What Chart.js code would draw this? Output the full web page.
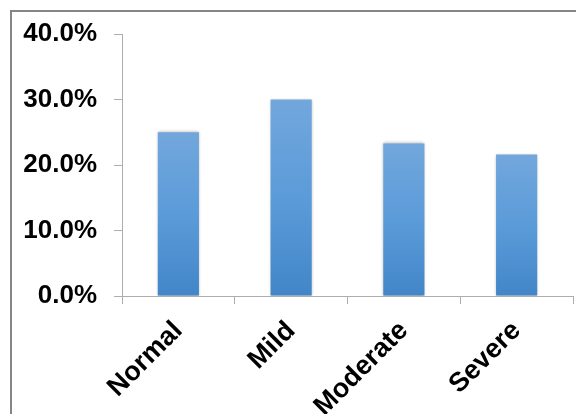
<!DOCTYPE html>
<html>
<head>
<meta charset="utf-8">
<script src="https://cdn.jsdelivr.net/npm/chart.js@4/dist/chart.umd.min.js"></script>
<style>
  html, body { margin: 0; padding: 0; background: #ffffff; }
  canvas { display: block; }
</style>
</head>
<body>
<canvas id="chart" width="576" height="414"></canvas>
<script>
// Share of subjects in each severity group (%)
const categories = ['Normal', 'Mild', 'Moderate', 'Severe'];
const shares = [25.0, 30.0, 23.3, 21.6];
const yMin = 0;
const yMax = 40;
const yStep = 10;

const axisGray = '#ADADAD';
const fontFamily = '"Liberation Sans", Arial, sans-serif';

// Vertical gradient running from the top of each bar down to the baseline
function barFill(ctx) {
  const chart = ctx.chart;
  const y = chart.scales && chart.scales.y;
  if (!chart.chartArea || !y || ctx.raw === undefined) return '#5B9BD5';
  const top = y.getPixelForValue(ctx.raw);
  const base = y.getPixelForValue(0);
  if (!isFinite(top) || !isFinite(base) || base - top < 1) return '#5B9BD5';
  const g = chart.ctx.createLinearGradient(0, top, 0, base);
  g.addColorStop(0, '#72A7DC');
  g.addColorStop(0.5, '#5B9BD9');
  g.addColorStop(1, '#4286C8');
  return g;
}

// Gray frame around the whole chart, plus a soft shadow behind the bars
const framePlugin = {
  id: 'frame',
  beforeDraw(chart) {
    const c = chart.ctx;
    c.save();
    c.fillStyle = '#ffffff';
    c.fillRect(0, 0, chart.width, chart.height);
    c.strokeStyle = '#858585';
    c.lineWidth = 2;
    c.strokeRect(11, 11, chart.width + 20, chart.height + 20);
    c.restore();
  },
  beforeDatasetDraw(chart) {
    const c = chart.ctx;
    c.save();
    c.shadowColor = 'rgba(0,0,0,0.35)';
    c.shadowBlur = 3;
    c.shadowOffsetX = 0;
    c.shadowOffsetY = 0;
  },
  afterDatasetDraw(chart) {
    chart.ctx.restore();
  }
};

new Chart(document.getElementById('chart'), {
  type: 'bar',
  data: {
    labels: categories,
    datasets: [{
      data: shares,
      backgroundColor: barFill,
      borderWidth: 0,
      categoryPercentage: 1.0,
      barPercentage: 0.365
    }]
  },
  options: {
    responsive: false,
    animation: false,
    events: [],
    layout: { padding: { top: 34, left: 0, right: 3, bottom: 0 } },
    plugins: {
      legend: { display: false },
      tooltip: { enabled: false },
      title: { display: false }
    },
    scales: {
      x: {
        grid: {
          offset: true,
          drawOnChartArea: false,
          drawTicks: true,
          tickLength: 8,
          color: axisGray
        },
        border: { display: true, color: axisGray, width: 1 },
        ticks: {
          color: '#000000',
          font: { family: fontFamily, size: 27, weight: 'bold' },
          autoSkip: false,
          maxRotation: 45,
          minRotation: 45,
          padding: 11
        },
        afterFit(scale) { scale.height = 118; }
      },
      y: {
        min: yMin,
        max: yMax,
        grid: {
          drawOnChartArea: false,
          drawTicks: true,
          tickLength: 8,
          color: axisGray
        },
        border: { display: true, color: axisGray, width: 1 },
        ticks: {
          stepSize: yStep,
          color: '#000000',
          font: { family: fontFamily, size: 26, weight: 'bold' },
          padding: 17,
          callback: (v) => v.toFixed(1) + '%'
        },
        afterFit(scale) { scale.width = 122; }
      }
    }
  },
  plugins: [framePlugin]
});
</script>
</body>
</html>
